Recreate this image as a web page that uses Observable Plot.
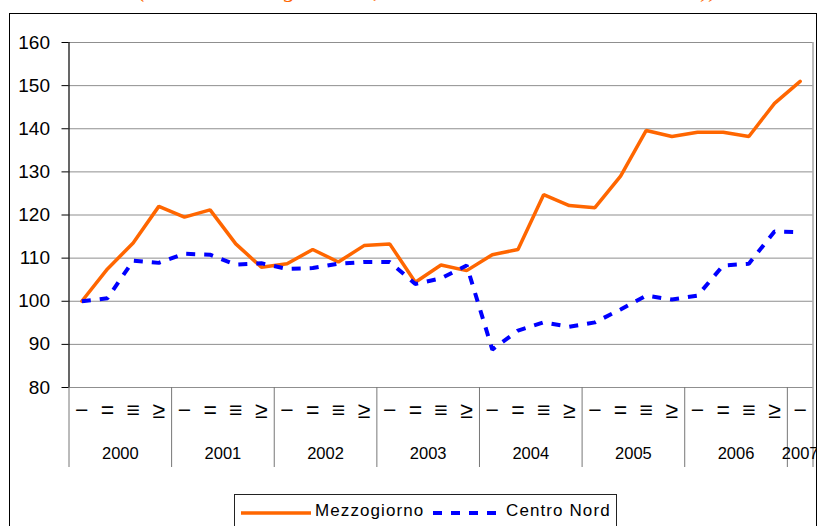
<!DOCTYPE html>
<html>
<head>
<meta charset="utf-8">
<script src="https://cdn.jsdelivr.net/npm/d3@7"></script>
<script src="https://cdn.jsdelivr.net/npm/@observablehq/plot@0.6"></script>
<style>
  html, body { margin: 0; padding: 0; background: #fff; }
  #wrap { position: relative; width: 818px; height: 526px; overflow: hidden; background: #fff; font-family: "Liberation Sans", Arial, sans-serif; }
  #title { position: absolute; left: 138px; top: -23px; white-space: nowrap; font-family: "Liberation Serif", "Times New Roman", serif; font-style: italic; font-size: 24px; line-height: 24px; color: #FF6600; }
  #frame { position: absolute; left: 9px; top: 13px; width: 808px; height: 600px; border: 1.5px solid #000; box-sizing: border-box; }
  #chart { position: absolute; left: 0; top: 0; width: 818px; height: 526px; clip-path: inset(0 2px 0 0); }
  #chart svg { max-width: none !important; }
  #legend { position: absolute; left: 234px; top: 494px; width: 383px; height: 50px; border: 1px solid #222; box-sizing: border-box; background: #fff; }
  .lg { position: absolute; font-family: "Liberation Sans", Arial, sans-serif; font-size: 17px; letter-spacing: 1.1px; color: #000; top: 6px; white-space: nowrap; }
  .sw { position: absolute; top: 10px; }
</style>
</head>
<body>
<div id="wrap">
  <div id="title">(Andamento degli ordini, numeri indice I trim. 2000 = 100))</div>
  <div id="frame"></div>
  <div id="chart"></div>
  <div id="legend"></div>
</div>
<script>
// ---- data ----
const quarterLabels = ["\u2212", "=", "\u2261", "\u2265"];
const years = ["2000", "2001", "2002", "2003", "2004", "2005", "2006", "2007"];
const quartersPerYear = [4, 4, 4, 4, 4, 4, 4, 1];
const mezzogiorno = [
  100.0, 107.5, 113.5, 122.0,
  119.5, 121.2, 113.3, 107.9,
  108.7, 112.0, 109.1, 112.9,
  113.3, 104.4, 108.4, 107.1,
  110.8, 112.0, 124.7, 122.2,
  121.7, 129.0, 139.6, 138.2,
  139.2, 139.2, 138.2, 145.9,
  151.0
];
const centroNord = [
  100.0, 100.7, 109.4, 108.9,
  111.0, 110.8, 108.5, 108.8,
  107.5, 107.7, 108.7, 109.1,
  109.1, 104.0, 105.3, 108.3,
  88.8, 93.2, 95.1, 94.1,
  95.1, 98.1, 101.3, 100.4,
  101.3, 108.3, 108.7, 116.2,
  116.0
];
const yTicks = [80, 90, 100, 110, 120, 130, 140, 150, 160];
const seriesNames = ["Mezzogiorno", "Centro Nord"];

// ---- derived structures ----
const n = mezzogiorno.length;
const idx = d3.range(n);
const qLabelOf = i => quarterLabels[i % 4];
const boundaries = [];
const yearCenters = [];
let start = 0;
quartersPerYear.forEach(q => {
  boundaries.push(start - 0.5);
  yearCenters.push(start + (q - 1) / 2);
  start += q;
});
boundaries.push(start - 0.5);
const yearOf = c => years[yearCenters.indexOf(c)];

const orange = "#FF6600";
const blue = "#0000FF";
const gridColor = "#8f8f8f";
const font = "'Liberation Sans', Arial, sans-serif";

const chart = Plot.plot({
  width: 818,
  height: 526,
  marginLeft: 68.5,
  marginRight: 5.5,
  marginTop: 42,
  marginBottom: 139,
  x: { domain: [-0.5, n - 0.5], axis: null },
  y: { domain: [80, 160], axis: null },
  style: { background: "transparent", fontFamily: font, color: "#000", overflow: "visible", maxWidth: "none" },
  marks: [
    Plot.gridY(yTicks, { stroke: gridColor, strokeOpacity: 1, strokeWidth: 1 }),
    Plot.ruleX([n - 0.5], { stroke: gridColor, strokeWidth: 1.2 }),
    Plot.axisX(boundaries, { tickSize: 80, tickFormat: () => "", stroke: "#777", strokeWidth: 1 }),
    Plot.axisX(idx, { tickSize: 0, tickPadding: 14, tickFormat: qLabelOf, fontSize: 23, fill: "#000", fontFamily: font }),
    Plot.axisX(yearCenters, { tickSize: 0, tickPadding: 60, tickFormat: yearOf, fontSize: 16.5, fill: "#000", letterSpacing: "1.2px", fontFamily: font }),
    Plot.ruleX([-0.5], { stroke: "#000", strokeWidth: 1.2 }),
    Plot.axisY(yTicks, { tickSize: 7, tickPadding: 12, fontSize: 19, fill: "#000", stroke: "#000", letterSpacing: "1.5px", fontFamily: font }),
    Plot.line(mezzogiorno, { x: (d, i) => i, y: d => d, stroke: orange, strokeWidth: 3.5, strokeLinejoin: "miter" }),
    Plot.line(centroNord, { x: (d, i) => i, y: d => d, stroke: blue, strokeWidth: 4, strokeDasharray: "9,9", strokeLinecap: "butt", strokeLinejoin: "miter" })
  ]
});
document.getElementById("chart").appendChild(chart);

// ---- legend ----
const legend = document.getElementById("legend");
const items = [
  { name: seriesNames[0], color: orange, dash: null, sx: 6, tx: 80 },
  { name: seriesNames[1], color: blue, dash: "9,9", sx: 198, tx: 271 }
];
items.forEach(it => {
  const svg = d3.create("svg").attr("class", "sw").attr("width", 72).attr("height", 16)
    .style("left", it.sx + "px");
  svg.append("line").attr("x1", 0).attr("x2", 70).attr("y1", 8).attr("y2", 8)
    .attr("stroke", it.color).attr("stroke-width", it.dash ? 4 : 3.5)
    .attr("stroke-dasharray", it.dash);
  legend.appendChild(svg.node());
  const t = document.createElement("div");
  t.className = "lg";
  t.style.left = it.tx + "px";
  t.textContent = it.name;
  legend.appendChild(t);
});
</script>
</body>
</html>
